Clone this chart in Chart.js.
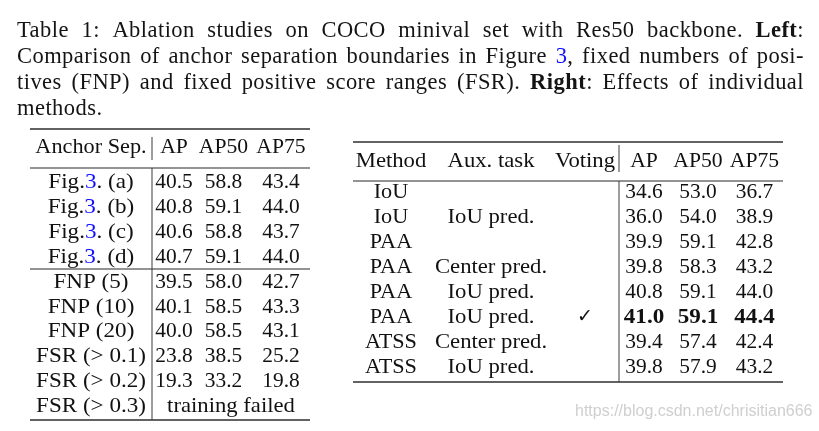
<!DOCTYPE html>
<html><head><meta charset="utf-8">
<script src="https://cdn.jsdelivr.net/npm/chart.js@4.4.0/dist/chart.umd.min.js"></script>
<style>
html,body{margin:0;padding:0;background:#fff;}
#wrap{position:relative;width:819px;height:431px;overflow:hidden;background:#fff;}
#c{position:absolute;left:0;top:0;}
.ln{position:absolute;left:17px;width:787px;display:flex;justify-content:space-between;
 font-family:"Liberation Serif","DejaVu Serif",serif;font-size:22.5px;line-height:26px;color:#141414;white-space:nowrap;letter-spacing:0.45px;}
.ln span{flex:0 0 auto;}
.ln.last{justify-content:flex-start;}
.blue{color:#1010ff;}
#wm{position:absolute;left:575px;top:402px;font-family:"Liberation Sans",Arial,sans-serif;font-size:16px;color:#cfcfcf;white-space:nowrap;}
</style></head>
<body><div id="wrap">
<canvas id="c" width="819" height="431"></canvas>
<div id="cap"></div>
<div id="wm">https://blog.csdn.net/chrisitian666</div>
</div>
<script>
// ---------- caption text ----------
const captionLines = [
  "Table 1: Ablation studies on COCO minival set with Res50 backbone. [b]Left[/b]:",
  "Comparison of anchor separation boundaries in Figure [blue]3[/blue], fixed numbers of posi-",
  "tives (FNP) and fixed positive score ranges (FSR). [b]Right[/b]: Effects of individual",
  "methods."
];

// ---------- left table data ----------
const leftHeaders = ["Anchor Sep.", "AP", "AP50", "AP75"];
const leftRowLabels = ["Fig.3. (a)", "Fig.3. (b)", "Fig.3. (c)", "Fig.3. (d)",
  "FNP (5)", "FNP (10)", "FNP (20)", "FSR (> 0.1)", "FSR (> 0.2)", "FSR (> 0.3)"];
const leftAP   = [40.5, 40.8, 40.6, 40.7, 39.5, 40.1, 40.0, 23.8, 19.3, null];
const leftAP50 = [58.8, 59.1, 58.8, 59.1, 58.0, 58.5, 58.5, 38.5, 33.2, null];
const leftAP75 = [43.4, 44.0, 43.7, 44.0, 42.7, 43.3, 43.1, 25.2, 19.8, null];
const leftFailedNote = "training failed";

// ---------- right table data ----------
const rightHeaders = ["Method", "Aux. task", "Voting", "AP", "AP50", "AP75"];
const rightMethods = ["IoU", "IoU", "PAA", "PAA", "PAA", "PAA", "ATSS", "ATSS"];
const rightAux = ["", "IoU pred.", "", "Center pred.", "IoU pred.", "IoU pred.", "Center pred.", "IoU pred."];
const rightVoting = [false, false, false, false, false, true, false, false];
const rightAP   = [34.6, 36.0, 39.9, 39.8, 40.8, 41.0, 39.4, 39.8];
const rightAP50 = [53.0, 54.0, 59.1, 58.3, 59.1, 59.1, 57.4, 57.9];
const rightAP75 = [36.7, 38.9, 42.8, 43.2, 44.0, 44.4, 42.4, 43.2];
const rightBestRow = 5;

// ---------- caption rendering ----------
(function(){
  const cap = document.getElementById('cap');
  const baselines = [38, 64, 90, 116];
  captionLines.forEach((line, i) => {
    const div = document.createElement('div');
    div.className = 'ln' + (i === captionLines.length - 1 ? ' last' : '');
    div.style.top = (baselines[i] - 21) + 'px';
    const words = line.split(' ');
    words.forEach((w, k) => {
      const s = document.createElement('span');
      s.innerHTML = w.replace(/\[b\]/g,'<b>').replace(/\[\/b\]/g,'</b>')
                     .replace(/\[blue\]/g,'<span class="blue">').replace(/\[\/blue\]/g,'</span>');
      if (i === captionLines.length - 1 && k > 0) s.style.marginLeft = '7px';
      div.appendChild(s);
    });
    cap.appendChild(div);
  });
})();

// ---------- layout (styles / positions) ----------
const layout = {
  left: {
    x0: 30, x1: 310, vline: 152,
    top: 129, headRule: 168, midRule: 269, bottom: 420,
    headBase: 153, headBar: [137, 160],
    rowBase0: 188, pitch: 24.9,
    cols: [91, 174, 223.5, 281]
  },
  right: {
    x0: 353, x1: 783, vline: 619,
    top: 142, headRule: 181, bottom: 382,
    headBase: 167, headBar: [145, 172],
    rowBase0: 198, pitch: 25,
    cols: [391, 491, 585, 644, 698, 754.5]
  }
};
const FONT = '"Liberation Serif","DejaVu Serif",serif';
const TXT = '#111111';
const RULE = '#3c3c3c';

const tablePlugin = {
  id: 'tables',
  afterDraw(chart) {
    const ctx = chart.ctx;
    const xs = chart.scales.x, ys = chart.scales.y;
    const X = v => xs.getPixelForValue(v), Y = v => ys.getPixelForValue(v);

    function hrule(x0, x1, yy, t) {
      ctx.fillStyle = RULE;
      ctx.fillRect(X(x0), Y(yy) - t / 2, X(x1) - X(x0), t);
    }
    function vrule(xx, y0, y1) {
      ctx.fillStyle = RULE;
      ctx.fillRect(X(xx) - 0.5, Y(y0), 1, Y(y1) - Y(y0));
    }
    function segs(str) {
      const m = /^(Fig\.)(\d+)(.*)$/.exec(str);
      if (m) return [{t: m[1]}, {t: m[2], c: '#1010ff'}, {t: m[3]}];
      return [{t: str}];
    }
    function text(str, cx, by, opts) {
      opts = opts || {};
      const sx = opts.sx || 1;
      ctx.save();
      ctx.font = (opts.bold ? 'bold ' : '') + (opts.size || 21) + 'px ' + (opts.font || FONT);
      ctx.textBaseline = 'alphabetic';
      ctx.textAlign = 'left';
      const parts = segs(str);
      let total = 0;
      parts.forEach(p => { p.w = ctx.measureText(p.t).width; total += p.w; });
      ctx.translate(X(cx), Y(by));
      ctx.scale(sx, 1);
      let cur = -total / 2;
      parts.forEach(p => {
        ctx.fillStyle = p.c || TXT;
        ctx.fillText(p.t, cur, 0);
        cur += p.w;
      });
      ctx.restore();
    }
    const fmt = v => v.toFixed(1);

    // ----- left table -----
    const L = layout.left;
    hrule(L.x0, L.x1, L.top, 1.6);
    hrule(L.x0, L.x1, L.headRule, 1.1);
    hrule(L.x0, L.x1, L.midRule, 1.1);
    hrule(L.x0, L.x1, L.bottom, 1.6);
    vrule(L.vline, L.headBar[0], L.headBar[1]);
    vrule(L.vline, L.headRule, L.bottom);
    leftHeaders.forEach((h, i) => text(h, L.cols[i], L.headBase, {sx: i === 0 ? 1.06 : 1.03}));
    leftRowLabels.forEach((lab, r) => {
      const by = L.rowBase0 + r * L.pitch;
      text(lab, L.cols[0], by, {sx: 1.1});
      if (leftAP[r] === null) {
        text(leftFailedNote, (L.vline + L.x1) / 2, by, {sx: 1.08});
      } else {
        text(fmt(leftAP[r]), L.cols[1], by, {sx: 1.02});
        text(fmt(leftAP50[r]), L.cols[2], by, {sx: 1.02});
        text(fmt(leftAP75[r]), L.cols[3], by, {sx: 1.02});
      }
    });

    // ----- right table -----
    const R = layout.right;
    hrule(R.x0, R.x1, R.top, 1.6);
    hrule(R.x0, R.x1, R.headRule, 1.1);
    hrule(R.x0, R.x1, R.bottom, 1.6);
    vrule(R.vline, R.headBar[0], R.headBar[1]);
    vrule(R.vline, R.headRule, R.bottom);
    rightHeaders.forEach((h, i) => text(h, R.cols[i], R.headBase, {sx: i < 3 ? 1.08 : 1.03}));
    rightMethods.forEach((m, r) => {
      const by = R.rowBase0 + r * R.pitch;
      const bold = r === rightBestRow;
      text(m, R.cols[0], by, {sx: 1.06});
      if (rightAux[r]) text(rightAux[r], R.cols[1], by, {sx: 1.08});
      if (rightVoting[r]) text('\u2713', R.cols[2], by - 1, {size: 19, font: '"DejaVu Sans",sans-serif'});
      text(fmt(rightAP[r]), R.cols[3], by, {sx: bold ? 1.1 : 1.02, bold});
      text(fmt(rightAP50[r]), R.cols[4], by, {sx: bold ? 1.1 : 1.02, bold});
      text(fmt(rightAP75[r]), R.cols[5], by, {sx: bold ? 1.1 : 1.02, bold});
    });
  }
};

new Chart(document.getElementById('c'), {
  type: 'scatter',
  data: { datasets: [] },
  options: {
    responsive: false,
    animation: false,
    events: [],
    layout: { padding: 0 },
    plugins: { legend: { display: false }, tooltip: { enabled: false } },
    scales: {
      x: { type: 'linear', min: 0, max: 819, display: false },
      y: { type: 'linear', min: 0, max: 431, reverse: true, display: false }
    }
  },
  plugins: [tablePlugin]
});
</script>
</body></html>
